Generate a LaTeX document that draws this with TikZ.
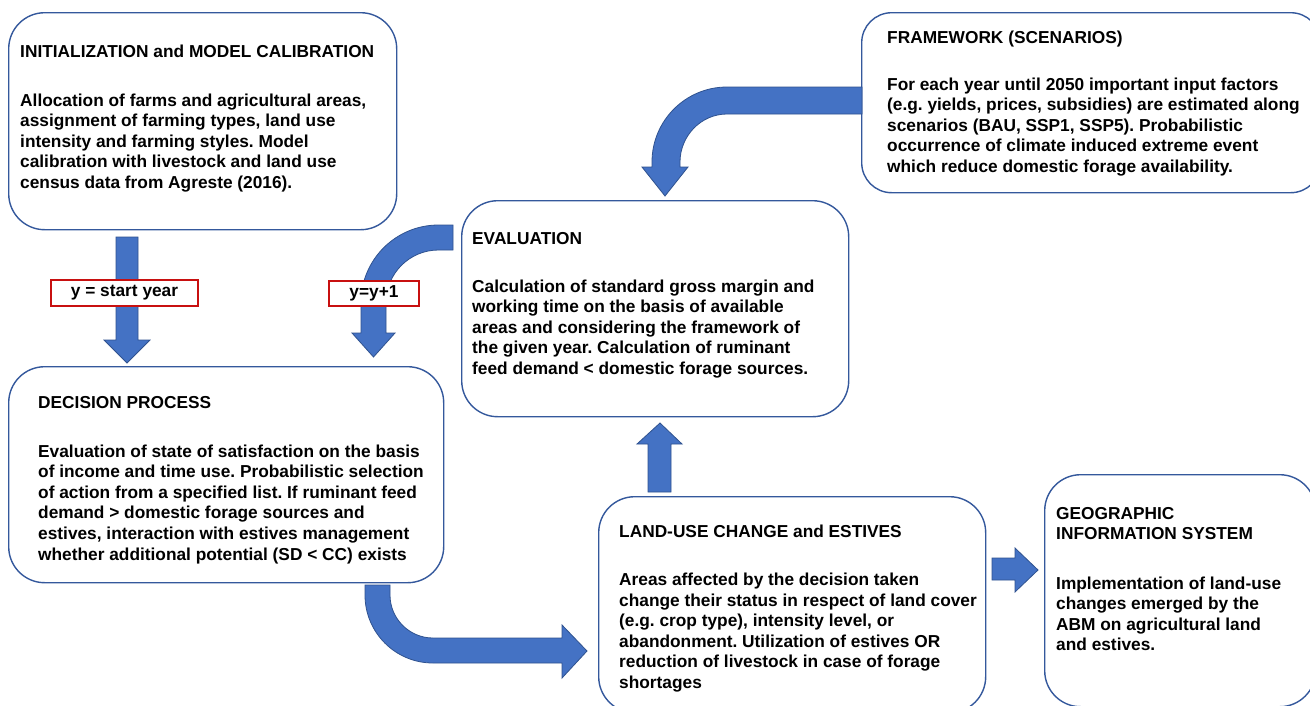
\documentclass[tikz,border=0pt]{standalone}
\usepackage{fontspec}
\setmainfont{Liberation Sans}
\frenchspacing
\definecolor{boxblue}{RGB}{52,88,156}
\definecolor{arrfill}{RGB}{68,114,196}
\definecolor{arrline}{RGB}{47,82,143}
\definecolor{labred}{RGB}{200,16,16}
\newcommand{\bodypar}[1]{\parbox[t]{480pt}{\raggedright #1}}
\tikzset{
  box/.style={draw=boxblue, line width=1.4pt, rounded corners=36pt, fill=white, anchor=north west, inner sep=0pt},
  ttl/.style={anchor=base west, inner sep=0pt, font=\fontsize{17.3}{20.6}\selectfont\bfseries},
  bdy/.style={anchor=base west, inner sep=0pt, font=\fontsize{17.3}{20.6}\selectfont\bfseries},
  blk/.style={fill=arrfill, draw=arrline, line width=0.8pt, line join=miter},
  lab/.style={draw=labred, line width=1.3pt, fill=white, inner sep=0pt, font=\fontsize{17.3}{20.6}\selectfont\bfseries}
}
\begin{document}
\begin{tikzpicture}[x=1pt, y=-1pt]
\useasboundingbox (0,0) rectangle (1310,705);
\fill[white] (0,0) rectangle (1310,705);

% boxes
\node[box, minimum width=388pt, minimum height=217pt] (init) at (8,12) {};
\node[box, minimum width=435pt, minimum height=216pt] (decision) at (8,366) {};
\node[box, minimum width=387pt, minimum height=216pt] (eval) at (461,200) {};
\node[box, rounded corners=30pt, minimum width=459pt, minimum height=180pt] (frame) at (861,12) {};
\node[box, minimum width=387pt, minimum height=216pt] (landuse) at (598,496) {};
\node[box, minimum width=271pt, minimum height=232pt] (gis) at (1044,474) {};

% texts
\node[ttl] (init-t) at (20,57) {INITIALIZATION and MODEL CALIBRATION};
\node[bdy] (init-b) at (20,106) {\bodypar{Allocation of farms and agricultural areas,\\
assignment of farming types, land use\\
intensity and farming styles. Model\\
calibration with livestock and land use\\
census data from Agreste (2016).}};

\node[ttl] (decision-t) at (38,408) {DECISION PROCESS};
\node[bdy] (decision-b) at (38,457) {\bodypar{Evaluation of state of satisfaction on the basis\\
of income and time use. Probabilistic selection\\
of action from a specified list. If ruminant feed\\
demand > domestic forage sources and\\
estives, interaction with estives management\\
whether additional potential (SD < CC) exists}};

\node[ttl] (eval-t) at (472,244) {EVALUATION};
\node[bdy] (eval-b) at (472,292) {\bodypar{Calculation of standard gross margin and\\
working time on the basis of available\\
areas and considering the framework of\\
the given year. Calculation of ruminant\\
feed demand < domestic forage sources.}};

\node[ttl] (frame-t) at (887,43) {FRAMEWORK (SCENARIOS)};
\node[bdy] (frame-b) at (887,90) {\bodypar{For each year until 2050 important input factors\\
(e.g. yields, prices, subsidies) are estimated along\\
scenarios (BAU, SSP1, SSP5). Probabilistic\\
occurrence of climate induced extreme event\\
which reduce domestic forage availability.}};

\node[ttl] (landuse-t) at (619,537) {LAND-USE CHANGE and ESTIVES};
\node[bdy] (landuse-b) at (619,585.5) {\bodypar{Areas affected by the decision taken\\
change their status in respect of land cover\\
(e.g. crop type), intensity level, or\\
abandonment. Utilization of estives OR\\
reduction of livestock in case of forage\\
shortages}};

\node[ttl] (gis-t) at (1056,519) {\bodypar{GEOGRAPHIC\\INFORMATION SYSTEM}};
\node[bdy] (gis-b) at (1056,589) {\bodypar{Implementation of land-use\\
changes emerged by the\\
ABM on agricultural land\\
and estives.}};

% block arrows
% init -> decision (straight down)
\draw[blk] (116,237) -- (138,237) -- (138,340) -- (150,340) -- (127,363) -- (104,340) -- (116,340) -- cycle;
% eval -> decision (bent)
\draw[blk] (453,225) -- (438.5,225) .. controls (395.7,225) and (361,259.7) .. (361,302.5)
  -- (361,333) -- (352,333) -- (373.5,357) -- (395,333) -- (386,333) -- (386,302.5)
  .. controls (386,273.5) and (409.5,250) .. (438.5,250) -- (453,250) -- cycle;
% frame -> eval (bent)
\draw[blk] (862,87) -- (727,87) .. controls (685.6,87) and (652,120.6) .. (652,162)
  -- (652,167) -- (642,167) -- (665,196) -- (688,167) -- (680,167) -- (680,162)
  .. controls (680,136) and (701,114) .. (727,114) -- (862,114) -- cycle;
% decision -> landuse (bent)
\draw[blk] (365,585) -- (365,595) .. controls (365,632.6) and (395.4,663) .. (433,663)
  -- (562,663) -- (562,678) -- (587,651) -- (562,625) -- (562,638) -- (433,638)
  .. controls (409.3,638) and (390,618.7) .. (390,595) -- (390,585) -- cycle;
% landuse -> eval (straight up)
\draw[blk] (648,492) -- (671,492) -- (671,444) -- (682,444) -- (660,423) -- (637,444) -- (648,444) -- cycle;
% landuse -> gis (straight right)
\draw[blk] (992,558) -- (1015,558) -- (1015,548) -- (1038,570) -- (1015,592) -- (1015,580) -- (992,580) -- cycle;

% labels
\node[lab, minimum width=147pt, minimum height=26pt] (lab1) at (124.5,293) {y = start year};
\node[lab, minimum width=90pt, minimum height=25pt] (lab2) at (374,293.5) {y=y+1};
\end{tikzpicture}
\end{document}
